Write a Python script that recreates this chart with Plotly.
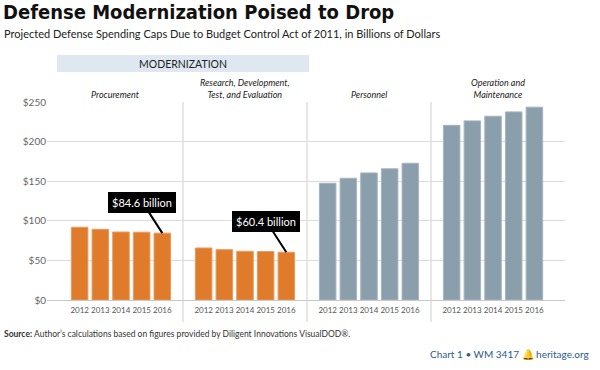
import plotly.graph_objects as go

# ---- data ----
years = ["2012", "2013", "2014", "2015", "2016"]
categories = ["Procurement", "Research, Development,<br>Test, and Evaluation",
              "Personnel", "Operation and<br>Maintenance"]
procurement = [92.0, 89.4, 86.0, 85.8, 84.6]
rdte = [65.8, 63.7, 61.6, 61.3, 60.4]
personnel = [147.7, 154.0, 160.8, 166.0, 173.0]
operation_maintenance = [221.0, 226.6, 232.5, 238.0, 244.0]
y_tick_values = [0, 50, 100, 150, 200, 250]
y_tick_labels = ["$0", "$50", "$100", "$150", "$200", "$250"]
callout_texts = ["$84.6 billion", "$60.4 billion"]
group_label = "MODERNIZATION"
title_text = "Defense Modernization Poised to Drop"
subtitle_text = "Projected Defense Spending Caps Due to Budget Control Act of 2011, in Billions of Dollars"
source_text = "<b>Source:</b> Author’s calculations based on figures provided by Diligent Innovations VisualDOD®."
credit_text = "Chart 1 • WM 3417 🔔 heritage.org"

series = [procurement, rdte, personnel, operation_maintenance]

# ---- style / layout ----
W, H = 600, 370
ML, MR, MT, MB = 47, 35, 102, 70
PW, PH = W - ML - MR, H - MT - MB
FONT = "Lato, 'Open Sans', sans-serif"
NARROW = "'Liberation Sans Narrow', 'DejaVu Sans Condensed', sans-serif"
ORANGE, ORANGE_LINE = "#E07B2C", "#EA9A5C"
SLATE, SLATE_LINE = "#8B9EAC", "#A6B5C1"
bar_fill = [ORANGE, ORANGE, SLATE, SLATE]
bar_line = [ORANGE_LINE, ORANGE_LINE, SLATE_LINE, SLATE_LINE]

def px(xp):
    return (xp - ML) / PW

def py(yp):
    return (MT + PH - yp) / PH

bounds = [47, 183, 307, 431, 565]
x_ranges = [[-1.58, 5], [-1, 5], [-1, 5], [-1, 5.48]]

fig = go.Figure()
for i, vals in enumerate(series):
    sfx = "" if i == 0 else str(i + 1)
    fig.add_trace(go.Bar(
        x=years, y=vals, xaxis="x" + sfx, yaxis="y" + sfx,
        marker=dict(color=bar_fill[i], line=dict(color=bar_line[i], width=1)),
        hoverinfo="x+y", showlegend=False,
    ))
    xa = dict(domain=[px(bounds[i]), px(bounds[i + 1])], range=x_ranges[i],
              type="category", anchor="y" + sfx, showgrid=False, zeroline=False,
              showline=False, ticks="", tickangle=0, ticklabelstandoff=4,
              tickfont=dict(family=FONT, size=8, color="#555"),
              fixedrange=True)
    ya = dict(range=[0, 250.5], anchor="x" + sfx, tickvals=y_tick_values,
              ticktext=y_tick_labels, showgrid=True, gridcolor="#dcdcdc", gridwidth=1,
              zeroline=True, zerolinecolor="#c8c8c8", zerolinewidth=1,
              showticklabels=(i == 0), ticks="",
              tickfont=dict(family=FONT, size=10, color="#666"), fixedrange=True)
    if i > 0:
        ya["matches"] = "y"
    fig.layout["xaxis" + sfx] = xa
    fig.layout["yaxis" + sfx] = ya

shapes = []
# panel separators
for b in bounds[1:-1]:
    shapes.append(dict(type="line", xref="paper", yref="paper",
                       x0=px(b), x1=px(b), y0=py(322), y1=1,
                       line=dict(color="#cfcfcf", width=1), layer="below"))
# modernization band
shapes.append(dict(type="rect", xref="paper", yref="paper",
                   x0=px(57), x1=px(309), y0=py(72), y1=py(55),
                   fillcolor="#DFE8F0", line=dict(width=0), layer="below"))

annotations = []
annotations.append(dict(text=group_label, xref="paper", yref="paper",
                        x=px(183), y=py(63.5), xanchor="center", yanchor="middle",
                        showarrow=False, font=dict(family=FONT, size=10.5, color="#222")))
for i, c in enumerate(categories):
    sfx = "" if i == 0 else str(i + 1)
    annotations.append(dict(text="<i>" + c + "</i>", xref="x" + sfx + " domain", yref="paper",
                            x=((bounds[i] + bounds[i + 1]) / 2 - bounds[i]) / (bounds[i + 1] - bounds[i]),
                            y=1, xanchor="center", yanchor="bottom", yshift=0, showarrow=False,
                            font=dict(family=FONT, size=9, color="#222")))
# callouts
for i, (vals, txt) in enumerate(zip([procurement, rdte], callout_texts)):
    sfx = "" if i == 0 else str(i + 1)
    annotations.append(dict(text=txt, xref="x" + sfx, yref="y" + sfx,
                            x=len(years) - 1, y=vals[-1], ax=-20, ay=-31,
                            showarrow=True, arrowhead=0, arrowwidth=2, arrowcolor="#000",
                            bgcolor="#000", bordercolor="#000", borderpad=3,
                            font=dict(family=FONT, size=11, color="#fff")))
# titles and footer
annotations.append(dict(text=subtitle_text, xref="paper", yref="paper", x=px(2), y=py(33),
                        xanchor="left", yanchor="middle", showarrow=False,
                        font=dict(family=FONT, size=11, color="#222")))
annotations.append(dict(text=source_text, xref="paper", yref="paper", x=px(2), y=py(334),
                        xanchor="left", yanchor="middle", showarrow=False,
                        font=dict(family=FONT, size=8.5, color="#333")))
annotations.append(dict(text=credit_text, xref="paper", yref="paper", x=px(591), y=py(354),
                        xanchor="right", yanchor="middle", showarrow=False,
                        font=dict(family=FONT, size=10, color="#2B5C8A")))

fig.update_layout(
    width=W, height=H, margin=dict(l=ML, r=MR, t=MT, b=MB, pad=0),
    paper_bgcolor="#fff", plot_bgcolor="#fff", bargap=0.2,
    title=dict(text="<b>" + title_text + "</b>", xref="container", yref="container",
               x=3 / W, xanchor="left", y=1 - 5 / H, yanchor="top",
               font=dict(family=NARROW, size=20, color="#111")),
    shapes=shapes, annotations=annotations,
)

fig.write_html("out.html", config={"displayModeBar": False},
               post_script="document.body.style.margin='0px';")
